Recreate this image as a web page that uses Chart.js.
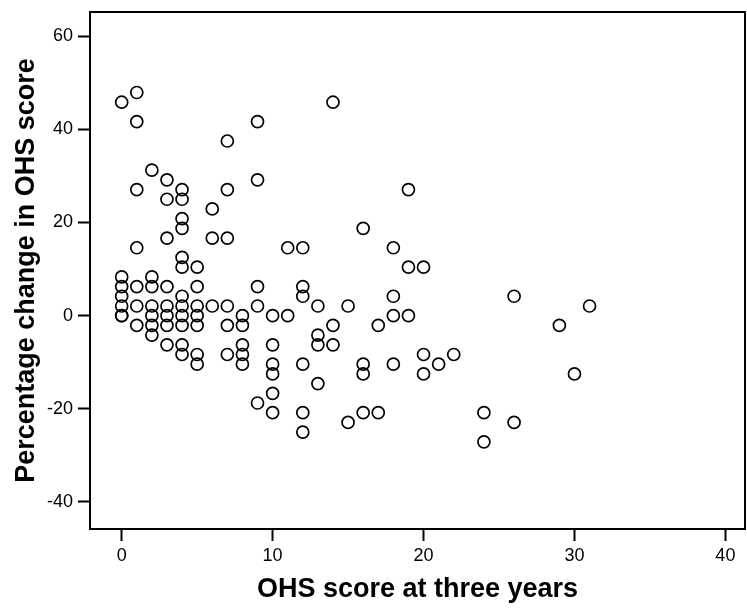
<!DOCTYPE html>
<html>
<head>
<meta charset="utf-8">
<script src="https://cdn.jsdelivr.net/npm/chart.js@4/dist/chart.umd.min.js"></script>
<style>
  html, body { margin: 0; padding: 0; background: #fff; }
  #wrap { width: 747px; height: 608px; }
</style>
</head>
<body>
<div id="wrap"><canvas id="c" width="747" height="608"></canvas></div>
<script>
// OHS score at three years (x) for each patient
const ohsScore = [
  0, 0, 0, 0, 0, 0, 0,
  1, 1, 1, 1, 1, 1, 1,
  2, 2, 2, 2, 2, 2, 2,
  3, 3, 3, 3, 3, 3, 3, 3,
  4, 4, 4, 4, 4, 4, 4, 4, 4, 4, 4, 4,
  5, 5, 5, 5, 5, 5, 5,
  6, 6, 6,
  7, 7, 7, 7, 7, 7,
  8, 8, 8, 8, 8,
  9, 9, 9, 9, 9,
  10, 10, 10, 10, 10, 10,
  11, 11,
  12, 12, 12, 12, 12, 12,
  13, 13, 13, 13,
  14, 14, 14,
  15, 15,
  16, 16, 16, 16,
  17, 17,
  18, 18, 18, 18,
  19, 19, 19,
  20, 20, 20,
  21,
  22,
  24, 24,
  26, 26,
  29,
  30,
  31
];
// Percentage change in OHS score (y) for each patient
const pctChange = [
  45.83, 8.33, 6.25, 4.17, 2.08, 0, 0,
  47.92, 41.67, 27.08, 14.58, 6.25, 2.08, -2.08,
  31.25, 8.33, 6.25, 2.08, 0, -2.08, -4.17,
  29.17, 25, 16.67, 6.25, 2.08, 0, -2.08, -6.25,
  27.08, 25, 20.83, 18.75, 12.5, 10.42, 4.17, 2.08, 0, -2.08, -6.25, -8.33,
  10.42, 6.25, 2.08, 0, -2.08, -8.33, -10.42,
  22.92, 16.67, 2.08,
  37.5, 27.08, 16.67, 2.08, -2.08, -8.33,
  0, -2.08, -6.25, -8.33, -10.42,
  41.67, 29.17, 6.25, 2.08, -18.75,
  0, -6.25, -10.42, -12.5, -16.67, -20.83,
  14.58, 0,
  14.58, 6.25, 4.17, -10.42, -20.83, -25,
  2.08, -4.17, -6.25, -14.58,
  45.83, -2.08, -6.25,
  2.08, -22.92,
  18.75, -10.42, -12.5, -20.83,
  -2.08, -20.83,
  14.58, 4.17, 0, -10.42,
  27.08, 10.42, 0,
  10.42, -8.33, -12.5,
  -10.42,
  -8.33,
  -20.83, -27.08,
  4.17, -22.92,
  -2.08,
  -12.5,
  2.08
];
const xTicks = [0, 10, 20, 30, 40];
const yTicks = [-40, -20, 0, 20, 40, 60];
const xTitle = 'OHS score at three years';
const yTitle = 'Percentage change in OHS score';

const points = ohsScore.map((x, i) => ({ x: x, y: pctChange[i] }));

const framePlugin = {
  id: 'frame',
  beforeDatasetsDraw(chart) {
    const a = chart.chartArea, ctx = chart.ctx;
    ctx.save();
    ctx.strokeStyle = '#000';
    ctx.lineWidth = 2;
    ctx.strokeRect(a.left, a.top, a.right - a.left, a.bottom - a.top);
    ctx.restore();
  }
};

const tickFont = { family: '"Liberation Sans", Arial, sans-serif', size: 18 };
const titleFont = { family: '"Liberation Sans", Arial, sans-serif', size: 27, weight: 'bold' };

new Chart(document.getElementById('c'), {
  type: 'scatter',
  data: {
    datasets: [{
      data: points,
      clip: false,
      pointRadius: 6,
      pointHoverRadius: 6,
      pointBorderWidth: 1.7,
      pointBorderColor: '#000',
      pointBackgroundColor: 'rgba(0,0,0,0)'
    }]
  },
  options: {
    responsive: false,
    animation: false,
    events: [],
    layout: { autoPadding: false, padding: { top: 12, right: 2, left: 0, bottom: 0 } },
    plugins: { legend: { display: false }, tooltip: { enabled: false } },
    scales: {
      x: {
        type: 'linear',
        min: -2.1,
        max: 41.3,
        afterBuildTicks: s => { s.ticks = xTicks.map(v => ({ value: v })); },
        afterFit: s => { s.height = 79; s.paddingLeft = 0; s.paddingRight = 0; },
        border: { display: true, color: '#000', width: 2 },
        grid: { display: true, drawOnChartArea: false, drawTicks: true, tickLength: 12, tickColor: '#000', tickWidth: 2 },
        ticks: { color: '#000', font: tickFont, padding: 4, maxRotation: 0 },
        title: { display: true, text: xTitle, color: '#000', font: titleFont, padding: { top: 0, bottom: 2 } }
      },
      y: {
        type: 'linear',
        min: -45.8,
        max: 65.2,
        afterBuildTicks: s => { s.ticks = yTicks.map(v => ({ value: v })); },
        afterFit: s => { s.width = 90; s.paddingTop = 0; s.paddingBottom = 0; },
        border: { display: true, color: '#000', width: 2 },
        grid: { display: true, drawOnChartArea: false, drawTicks: true, tickLength: 12, tickColor: '#000', tickWidth: 2 },
        ticks: { color: '#000', font: tickFont, padding: 5 },
        title: { display: true, text: yTitle, color: '#000', font: titleFont, padding: { top: 10, bottom: 0 } }
      }
    }
  },
  plugins: [framePlugin]
});
</script>
</body>
</html>
